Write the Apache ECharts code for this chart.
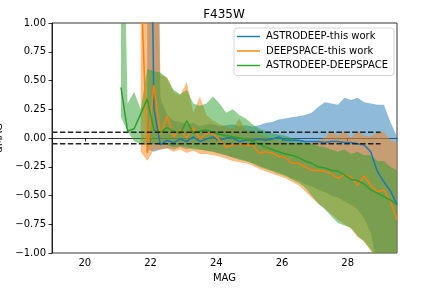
<!DOCTYPE html>
<html><head><meta charset="utf-8">
<script src="https://cdn.jsdelivr.net/npm/echarts@6/dist/echarts.min.js"></script>
<style>html,body{margin:0;padding:0;background:#fff}#c{width:432px;height:288px}</style>
</head><body><div id="c"></div>
<script>
// magnitude bins
const mag = [21.1,21.3,21.5,21.7,21.9,22.1,22.3,22.5,22.7,22.9,23.1,23.3,23.5,23.7,23.9,24.1,24.3,24.5,24.7,24.9,25.1,25.3,25.5,25.7,25.9,26.1,26.3,26.5,26.7,26.9,27.1,27.3,27.5,27.7,27.9,28.1,28.3,28.5,28.7,28.9,29.1,29.3,29.5];
// ASTRODEEP-this work
const blueMid = [null,null,null,null,5,0.26,-0.06,-0.02,-0.04,-0.01,-0.03,0.01,-0.03,-0.01,0.01,-0.02,0.0,0.0,-0.03,-0.02,-0.02,-0.01,-0.02,-0.01,0.01,-0.02,-0.02,-0.02,-0.03,-0.03,-0.03,-0.04,-0.03,-0.03,-0.04,-0.04,-0.05,-0.06,-0.12,-0.29,-0.38,-0.46,-0.58];
const blueLo = [null,null,null,null,-0.1,-0.12,-0.1,-0.09,-0.1,-0.08,-0.1,-0.08,-0.1,-0.11,-0.12,-0.14,-0.15,-0.17,-0.18,-0.2,-0.22,-0.24,-0.26,-0.28,-0.3,-0.32,-0.35,-0.37,-0.4,-0.42,-0.45,-0.47,-0.5,-0.52,-0.55,-0.58,-0.62,-0.7,-0.82,-1.1,-1.3,-1.5,-1.6];
const blueHi = [null,null,null,null,8,4,0.35,0.2,0.15,0.14,0.12,0.13,0.1,0.12,0.12,0.1,0.11,0.12,0.1,0.11,0.1,0.11,0.13,0.14,0.16,0.17,0.18,0.19,0.2,0.22,0.27,0.31,0.3,0.29,0.35,0.33,0.35,0.31,0.3,0.29,0.29,0.14,0.01];
// DEEPSPACE-this work
const orangeMid = [null,null,null,1.4,-0.13,0.46,0.03,0.19,0.01,0.07,0.0,0.09,-0.01,0.04,0.04,-0.02,-0.08,-0.06,-0.05,-0.06,-0.06,-0.13,-0.12,-0.13,-0.16,-0.17,-0.22,-0.22,-0.25,-0.28,-0.28,-0.29,-0.31,-0.35,-0.32,-0.34,-0.41,-0.33,-0.41,-0.47,-0.45,-0.55,-0.71];
const orangeLo = [null,null,null,-0.12,-0.2,-0.1,-0.1,-0.09,-0.12,-0.1,-0.13,-0.11,-0.14,-0.14,-0.15,-0.16,-0.18,-0.2,-0.21,-0.22,-0.24,-0.27,-0.29,-0.31,-0.33,-0.35,-0.38,-0.41,-0.46,-0.52,-0.57,-0.61,-0.66,-0.71,-0.75,-0.79,-0.86,-0.9,-0.98,-1.1,-1.2,-1.3,-1.4];
const orangeHi = [null,null,null,6,6,4,0.55,0.53,0.4,0.37,0.49,0.22,0.36,0.2,0.15,0.12,0.1,0.08,0.17,0.07,0.05,0.03,0.01,-0.01,-0.02,-0.03,-0.04,-0.05,-0.05,-0.04,-0.02,0.0,0.06,0.02,0.06,0.0,0.06,0.02,0.01,0.05,0.05,-0.02,-0.04];
// ASTRODEEP-DEEPSPACE
const greenMid = [0.44,0.06,0.08,0.21,0.34,0.07,0.05,0.09,0.06,0.04,0.15,0.04,0.06,0.07,0.05,0.03,0.02,0.01,0.0,-0.01,-0.03,-0.05,-0.08,-0.10,-0.12,-0.14,-0.15,-0.17,-0.20,-0.22,-0.25,-0.26,-0.28,-0.29,-0.32,-0.36,-0.37,-0.40,-0.45,-0.48,-0.51,-0.54,-0.58];
const greenLo = [0.18,0.06,-0.03,-0.05,-0.06,-0.05,-0.06,-0.06,-0.08,-0.07,-0.08,-0.1,-0.1,-0.11,-0.12,-0.13,-0.15,-0.17,-0.19,-0.2,-0.22,-0.25,-0.27,-0.29,-0.31,-0.33,-0.36,-0.39,-0.43,-0.5,-0.57,-0.62,-0.68,-0.74,-0.76,-0.78,-0.85,-0.9,-0.97,-1.05,-1.1,-1.15,-1.2];
const greenHi = [3,0.3,0.4,0.25,0.6,0.58,0.57,0.52,0.42,0.38,0.42,0.3,0.28,0.3,0.36,0.3,0.22,0.25,0.2,0.17,0.12,0.08,0.06,0.04,0.03,0.02,0.0,-0.02,-0.03,-0.05,-0.07,-0.08,-0.1,-0.12,-0.1,-0.14,-0.12,-0.15,-0.15,-0.2,-0.2,-0.25,-0.28];
// reference lines and ticks
const refLevels = [0.05, -0.05];
const refRange = [19, 29];
const xTicks = [20, 22, 24, 26, 28];
const yTicks = [-1, -0.75, -0.5, -0.25, 0, 0.25, 0.5, 0.75, 1];
const names = ['ASTRODEEP-this work', 'DEEPSPACE-this work', 'ASTRODEEP-DEEPSPACE'];

const colors = ['#1f77b4', '#ff7f0e', '#2ca02c'];
const fills = ['rgba(31,119,180,0.5)', 'rgba(255,127,14,0.5)', 'rgba(44,160,44,0.5)'];
const FONT = 'DejaVu Sans';

function pairs(v) {
  const out = [];
  for (let i = 0; i < mag.length; i++) if (v[i] != null) out.push([mag[i], v[i]]);
  return out;
}
function band(lo, hi, color, z) {
  const pts = [];
  for (let i = 0; i < mag.length; i++) if (lo[i] != null) pts.push([mag[i], lo[i], hi[i]]);
  return {
    type: 'custom', silent: true, clip: true, z: z, data: pts,
    encode: { x: 0, y: [1, 2] },
    renderItem: function (params, api) {
      if (params.dataIndex !== 0) return null;
      const top = pts.map(p => api.coord([p[0], p[2]]));
      const bot = pts.map(p => api.coord([p[0], p[1]])).reverse();
      return { type: 'polygon', shape: { points: top.concat(bot) }, style: { fill: color } };
    }
  };
}
function line(name, v, color) {
  return { type: 'line', name: name, data: pairs(v), symbol: 'none', showSymbol: false, z: 5,
    lineStyle: { color: color, width: 1.5 }, itemStyle: { color: color } };
}
const series = [
  band(blueLo, blueHi, fills[0], 1),
  band(orangeLo, orangeHi, fills[1], 2),
  band(greenLo, greenHi, fills[2], 3),
  line(names[0], blueMid, colors[0]),
  line(names[1], orangeMid, colors[1]),
  line(names[2], greenMid, colors[2])
];
refLevels.forEach(l => series.push({
  type: 'line', data: [[refRange[0], l], [refRange[1], l]], symbol: 'none', z: 6, silent: true,
  lineStyle: { color: '#222', width: 1.5, type: [5.5, 2.4] }
}));

const chart = echarts.init(document.getElementById('c'));
chart.setOption({
  animation: false,
  grid: { left: 52, right: 35, top: 23, bottom: 35, outerBoundsMode: 'none', containLabel: false,
    show: true, borderColor: '#000', borderWidth: 0.8, backgroundColor: 'transparent' },
  graphic: [{ type: 'text', x: 224, y: 14.5, style: { text: 'F435W', align: 'center', verticalAlign: 'middle', font: '12px "DejaVu Sans"', fill: '#000' } }],
  legend: {
    orient: 'vertical', left: 234, top: 28, data: names,
    icon: 'path://M0,0H24V1.5H0Z',
    itemWidth: 23, itemHeight: 10, itemGap: 4.5,
    padding: [3.5, 6, 5, 3],
    backgroundColor: 'rgba(255,255,255,0.8)', borderColor: '#cccccc', borderWidth: 0.8, borderRadius: 3,
    textStyle: { fontFamily: FONT, fontSize: 10, color: '#000', padding: [0, 0, 0, 1] }
  },
  xAxis: {
    type: 'value', min: 19, max: 29.5,
    name: 'MAG', nameLocation: 'middle', nameGap: 20,
    nameTextStyle: { fontFamily: FONT, fontSize: 10, color: '#000' },
    axisLine: { show: true, lineStyle: { color: '#000', width: 0.8 } },
    axisTick: { show: true, length: 3.5, lineStyle: { color: '#000', width: 0.8 }, customValues: xTicks },
    axisLabel: { fontFamily: FONT, fontSize: 10, color: '#000', margin: 5, customValues: xTicks },
    splitLine: { show: false }
  },
  yAxis: {
    type: 'value', min: -1, max: 1,
    name: 'dMAG', nameLocation: 'middle', nameGap: 46,
    nameTextStyle: { fontFamily: FONT, fontSize: 10, color: '#000' },
    axisLine: { show: true, lineStyle: { color: '#000', width: 0.8 } },
    axisTick: { show: true, length: 3.5, lineStyle: { color: '#000', width: 0.8 }, customValues: yTicks },
    axisLabel: { fontFamily: FONT, fontSize: 10, color: '#000', margin: 6, customValues: yTicks,
      formatter: v => v.toFixed(2).replace('-', '\u2212') },
    splitLine: { show: false }
  },
  series: series
});
</script></body></html>
